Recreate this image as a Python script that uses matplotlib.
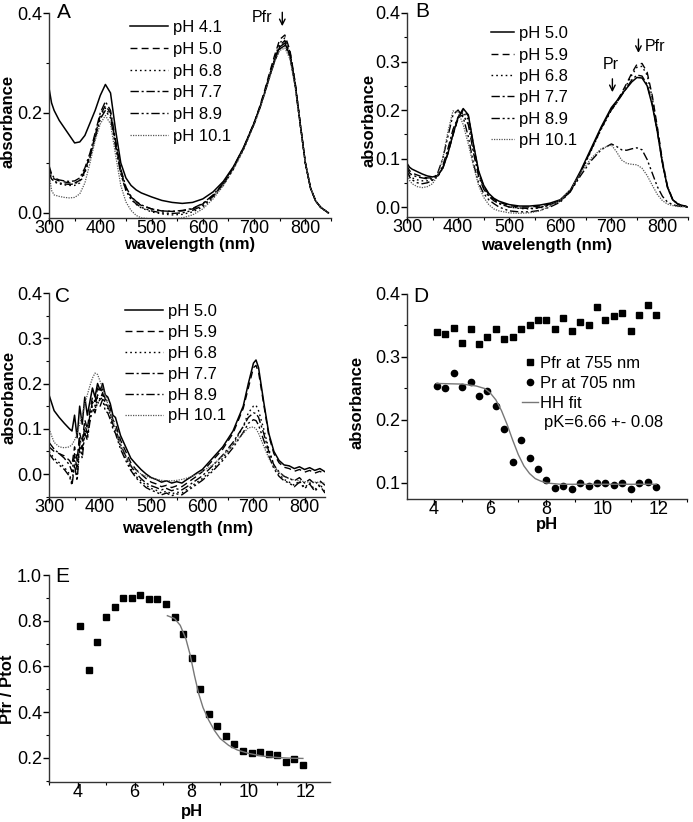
import matplotlib
matplotlib.use("Agg")
import matplotlib.pyplot as plt
from matplotlib.ticker import MultipleLocator

plt.rcParams['font.family'] = ['Liberation Sans', 'DejaVu Sans']

# ---------------- panel A ----------------
wl_a = [300, 305, 310, 320, 330, 340, 350, 360, 370, 380, 390, 400, 410, 420, 430,
        440, 450, 460, 470, 480, 500, 520, 540, 560, 580, 600, 620, 640, 660, 680,
        700, 710, 720, 730, 740, 750, 760, 770, 780, 790, 800, 810, 820, 830, 845]
a_41 = [0.25, 0.22, 0.205, 0.185, 0.17, 0.155, 0.14, 0.142, 0.155, 0.18, 0.205, 0.235, 0.257, 0.24, 0.165,
        0.10, 0.07, 0.055, 0.046, 0.04, 0.032, 0.025, 0.021, 0.019, 0.021, 0.028, 0.042, 0.063, 0.093, 0.132,
        0.18, 0.207, 0.238, 0.272, 0.305, 0.332, 0.34, 0.315, 0.258, 0.178, 0.10, 0.05, 0.024, 0.011, 0.0]
a_50 = [0.09, 0.075, 0.068, 0.064, 0.062, 0.06, 0.06, 0.065, 0.085, 0.115, 0.155, 0.195, 0.215, 0.2, 0.14,
        0.085, 0.05, 0.032, 0.022, 0.015, 0.008, 0.004, 0.003, 0.004, 0.008, 0.018, 0.035, 0.058, 0.09, 0.13,
        0.18, 0.21, 0.243, 0.28, 0.315, 0.347, 0.356, 0.325, 0.262, 0.18, 0.1, 0.05, 0.024, 0.011, 0.0]
a_68 = [0.085, 0.07, 0.062, 0.058, 0.056, 0.055, 0.055, 0.06, 0.08, 0.11, 0.15, 0.19, 0.21, 0.195, 0.135,
        0.08, 0.045, 0.027, 0.017, 0.01, 0.002, -0.002, -0.004, -0.003, 0.002, 0.012, 0.03, 0.055, 0.088, 0.128,
        0.178, 0.207, 0.24, 0.275, 0.31, 0.34, 0.35, 0.322, 0.26, 0.178, 0.1, 0.05, 0.024, 0.011, 0.0]
a_77 = [0.095, 0.078, 0.07, 0.066, 0.064, 0.063, 0.064, 0.07, 0.09, 0.12, 0.16, 0.2, 0.223, 0.205, 0.145,
        0.088, 0.052, 0.033, 0.023, 0.016, 0.008, 0.004, 0.003, 0.005, 0.009, 0.019, 0.036, 0.06, 0.092, 0.132,
        0.18, 0.208, 0.24, 0.275, 0.308, 0.335, 0.345, 0.32, 0.26, 0.178, 0.1, 0.05, 0.024, 0.011, 0.0]
a_89 = [0.08, 0.068, 0.063, 0.06, 0.058, 0.057, 0.058, 0.064, 0.083, 0.112, 0.15, 0.188, 0.205, 0.19, 0.132,
        0.078, 0.045, 0.028, 0.018, 0.011, 0.004, 0.0, -0.001, 0.0, 0.005, 0.015, 0.033, 0.057, 0.09, 0.13,
        0.178, 0.206, 0.238, 0.272, 0.303, 0.328, 0.335, 0.312, 0.255, 0.176, 0.1, 0.05, 0.024, 0.011, 0.0]
a_101 = [0.08, 0.045, 0.036, 0.033, 0.031, 0.03, 0.031, 0.038, 0.06, 0.1, 0.145, 0.178, 0.195, 0.178, 0.115,
         0.055, 0.022, 0.005, -0.005, -0.01, -0.012, -0.012, -0.012, -0.01, -0.004, 0.008, 0.028, 0.055, 0.088, 0.128,
         0.176, 0.204, 0.236, 0.27, 0.302, 0.325, 0.33, 0.308, 0.252, 0.175, 0.1, 0.05, 0.024, 0.011, 0.0]
labels_a = ['pH 4.1', 'pH 5.0', 'pH 6.8', 'pH 7.7', 'pH 8.9', 'pH 10.1']

# ---------------- panel B ----------------
wl_b = [300, 305, 310, 320, 330, 340, 350, 360, 370, 380, 390, 400, 410, 420, 430,
        440, 450, 460, 470, 480, 500, 520, 540, 560, 580, 600, 620, 640, 660, 680,
        700, 710, 720, 730, 740, 750, 760, 770, 780, 790, 800, 810, 820, 830, 850]
b_50 = [0.09, 0.082, 0.078, 0.073, 0.068, 0.064, 0.062, 0.065, 0.08, 0.11, 0.15, 0.185, 0.203, 0.19, 0.13,
        0.075, 0.045, 0.028, 0.018, 0.012, 0.005, 0.002, 0.002, 0.004, 0.008, 0.015, 0.035, 0.075, 0.12, 0.165,
        0.205, 0.218, 0.232, 0.245, 0.258, 0.267, 0.266, 0.25, 0.21, 0.155, 0.09, 0.04, 0.015, 0.006, 0.0]
b_59 = [0.085, 0.075, 0.07, 0.066, 0.062, 0.06, 0.06, 0.064, 0.08, 0.11, 0.148, 0.183, 0.2, 0.188, 0.128,
        0.073, 0.043, 0.026, 0.016, 0.01, 0.003, 0.0, 0.0, 0.002, 0.006, 0.013, 0.033, 0.072, 0.117, 0.162,
        0.202, 0.216, 0.235, 0.255, 0.276, 0.294, 0.296, 0.278, 0.23, 0.165, 0.095, 0.042, 0.016, 0.006, 0.0]
b_68 = [0.075, 0.065, 0.06, 0.056, 0.054, 0.054, 0.056, 0.062, 0.08, 0.112, 0.15, 0.182, 0.196, 0.18, 0.12,
        0.068, 0.04, 0.024, 0.014, 0.008, 0.0, -0.003, -0.004, -0.002, 0.004, 0.012, 0.032, 0.07, 0.115, 0.16,
        0.2, 0.214, 0.232, 0.252, 0.272, 0.288, 0.29, 0.272, 0.225, 0.162, 0.093, 0.042, 0.016, 0.006, 0.0]
b_77 = [0.08, 0.07, 0.066, 0.062, 0.06, 0.058, 0.058, 0.064, 0.085, 0.12, 0.16, 0.185, 0.19, 0.17, 0.112,
        0.064, 0.037, 0.022, 0.013, 0.007, 0.0, -0.002, -0.003, -0.001, 0.005, 0.013, 0.033, 0.072, 0.117, 0.162,
        0.2, 0.214, 0.23, 0.246, 0.262, 0.272, 0.27, 0.253, 0.212, 0.156, 0.09, 0.04, 0.015, 0.006, 0.0]
b_89 = [0.075, 0.062, 0.056, 0.05, 0.048, 0.05, 0.055, 0.07, 0.1, 0.145, 0.19, 0.2, 0.185, 0.145, 0.09,
        0.05, 0.028, 0.015, 0.007, 0.0, -0.008, -0.01, -0.01, -0.007, 0.0, 0.01, 0.032, 0.065, 0.095, 0.118,
        0.13, 0.125, 0.118, 0.117, 0.12, 0.122, 0.118, 0.098, 0.07, 0.042, 0.022, 0.01, 0.005, 0.002, 0.0]
b_101 = [0.07, 0.055, 0.048, 0.042, 0.04, 0.042, 0.048, 0.065, 0.1, 0.155, 0.198, 0.196, 0.17, 0.13, 0.085,
         0.045, 0.02, 0.005, -0.004, -0.008, -0.012, -0.013, -0.012, -0.008, 0.002, 0.014, 0.037, 0.07, 0.1, 0.12,
         0.128, 0.114, 0.097, 0.09, 0.088, 0.087, 0.08, 0.065, 0.045, 0.026, 0.013, 0.006, 0.003, 0.001, 0.0]
labels_bc = ['pH 5.0', 'pH 5.9', 'pH 6.8', 'pH 7.7', 'pH 8.9', 'pH 10.1']

# ---------------- panel C ----------------
wl_c = [300, 310, 320, 330, 340, 345, 350, 355, 360, 365, 370, 375, 380, 385, 390, 395, 400, 405, 410, 415,
        420, 425, 430, 440, 450, 460, 470, 480, 490, 500, 510, 520, 530, 540, 550, 560, 570, 580, 590, 600,
        620, 640, 660, 680, 690, 700, 705, 710, 720, 730, 740, 750, 760, 770, 780, 790, 800, 810, 820, 830, 840]
c_50 = [0.175, 0.14, 0.125, 0.112, 0.1, 0.095, 0.13, 0.08, 0.15, 0.11, 0.17, 0.13, 0.16, 0.19, 0.17, 0.2, 0.185, 0.2, 0.175, 0.17,
        0.155, 0.13, 0.125, 0.085, 0.06, 0.035, 0.022, 0.01, 0.0, -0.008, -0.012, -0.018, -0.015, -0.02, -0.017, -0.02, -0.012, -0.005, 0.003, 0.01,
        0.035, 0.06, 0.095, 0.15, 0.2, 0.245, 0.252, 0.235, 0.16, 0.09, 0.05, 0.03, 0.02, 0.018, 0.012, 0.016, 0.01, 0.014, 0.008, 0.012, 0.005]
c_59 = [0.06, 0.05, 0.045, 0.04, 0.03, 0.02, 0.06, 0.03, 0.09, 0.07, 0.12, 0.1, 0.14, 0.17, 0.16, 0.19, 0.18, 0.19, 0.165, 0.16,
        0.145, 0.12, 0.11, 0.075, 0.05, 0.025, 0.01, 0.0, -0.01, -0.018, -0.022, -0.028, -0.025, -0.03, -0.026, -0.028, -0.02, -0.012, -0.004, 0.005,
        0.03, 0.055, 0.09, 0.145, 0.19, 0.235, 0.24, 0.225, 0.155, 0.085, 0.045, 0.025, 0.015, 0.012, 0.006, 0.01, 0.004, 0.008, 0.002, 0.006, 0.0]
c_68 = [0.05, 0.035, 0.025, 0.015, 0.0, -0.02, 0.03, -0.01, 0.07, 0.04, 0.1, 0.08, 0.12, 0.15, 0.14, 0.17, 0.16, 0.175, 0.15, 0.145,
        0.13, 0.105, 0.095, 0.06, 0.035, 0.012, -0.005, -0.015, -0.025, -0.032, -0.036, -0.042, -0.038, -0.044, -0.04, -0.042, -0.034, -0.026, -0.018, -0.01,
        0.01, 0.035, 0.065, 0.105, 0.135, 0.15, 0.152, 0.14, 0.1, 0.055, 0.02, 0.0, -0.012, -0.018, -0.025, -0.015, -0.03, -0.02, -0.035, -0.022, -0.04]
c_77 = [0.07, 0.055, 0.045, 0.035, 0.02, 0.005, 0.045, 0.01, 0.08, 0.055, 0.11, 0.09, 0.13, 0.16, 0.15, 0.175, 0.165, 0.18, 0.155, 0.15,
        0.135, 0.11, 0.1, 0.065, 0.04, 0.018, 0.002, -0.01, -0.02, -0.026, -0.03, -0.035, -0.032, -0.037, -0.033, -0.035, -0.028, -0.02, -0.012, -0.004,
        0.018, 0.042, 0.07, 0.105, 0.125, 0.135, 0.134, 0.125, 0.09, 0.05, 0.02, 0.005, -0.005, -0.01, -0.015, -0.008, -0.02, -0.012, -0.022, -0.015, -0.025]
c_89 = [0.045, 0.03, 0.02, 0.01, -0.005, -0.025, 0.02, -0.015, 0.06, 0.035, 0.09, 0.075, 0.115, 0.145, 0.135, 0.16, 0.15, 0.165, 0.14, 0.135,
        0.12, 0.1, 0.09, 0.055, 0.03, 0.008, -0.008, -0.02, -0.03, -0.036, -0.04, -0.046, -0.042, -0.048, -0.044, -0.046, -0.038, -0.03, -0.022, -0.014,
        0.006, 0.03, 0.058, 0.092, 0.112, 0.12, 0.118, 0.108, 0.075, 0.04, 0.012, -0.005, -0.015, -0.02, -0.028, -0.018, -0.032, -0.022, -0.038, -0.026, -0.042]
c_101 = [0.1, 0.07, 0.06, 0.058, 0.06, 0.065, 0.075, 0.09, 0.11, 0.13, 0.155, 0.175, 0.195, 0.212, 0.223, 0.22, 0.205, 0.19, 0.175, 0.155,
         0.135, 0.118, 0.1, 0.065, 0.04, 0.02, 0.008, 0.0, -0.005, -0.009, -0.012, -0.014, -0.015, -0.015, -0.014, -0.012, -0.009, -0.005, 0.0, 0.006,
         0.02, 0.04, 0.065, 0.09, 0.102, 0.104, 0.1, 0.09, 0.062, 0.035, 0.015, 0.003, -0.005, -0.01, -0.013, -0.015, -0.017, -0.018, -0.018, -0.019, -0.02]

# ---------------- panel D ----------------
ph = [4.1, 4.4, 4.7, 5.0, 5.3, 5.6, 5.9, 6.2, 6.5, 6.8, 7.1, 7.4, 7.7, 8.0,
      8.3, 8.6, 8.9, 9.2, 9.5, 9.8, 10.1, 10.4, 10.7, 11.0, 11.3, 11.6, 11.9]
pfr_755 = [0.340, 0.336, 0.346, 0.323, 0.344, 0.321, 0.332, 0.345, 0.328, 0.331, 0.344, 0.351, 0.358, 0.359,
           0.344, 0.362, 0.342, 0.355, 0.351, 0.379, 0.359, 0.365, 0.370, 0.342, 0.366, 0.383, 0.366]
pr_705 = [0.254, 0.251, 0.275, 0.252, 0.261, 0.238, 0.246, 0.222, 0.186, 0.133, 0.168, 0.140, 0.122, 0.104,
          0.092, 0.096, 0.091, 0.100, 0.095, 0.100, 0.100, 0.097, 0.100, 0.091, 0.100, 0.101, 0.094]
fit_d_ph = [4.1, 5.0, 5.5, 5.8, 6.0, 6.2, 6.4, 6.6, 6.8, 7.0, 7.2, 7.4, 7.6, 7.8, 8.0, 8.5, 9.0, 10.0, 11.9]
fit_d = [0.258, 0.257, 0.254, 0.250, 0.243, 0.232, 0.215, 0.193, 0.168, 0.145, 0.127, 0.115, 0.107, 0.103,
         0.100, 0.098, 0.098, 0.098, 0.098]

# ---------------- panel E ----------------
pfr_ptot = [0.777, 0.583, 0.709, 0.818, 0.859, 0.898, 0.898, 0.911, 0.895, 0.895, 0.875, 0.818, 0.743, 0.635,
            0.503, 0.393, 0.341, 0.295, 0.263, 0.231, 0.222, 0.225, 0.217, 0.215, 0.181, 0.196, 0.169]
fit_e_ph = [7.15, 7.4, 7.6, 7.8, 7.95, 8.1, 8.25, 8.4, 8.6, 8.8, 9.0, 9.3, 9.6, 10.0, 10.5, 11.0, 11.5, 11.9]
fit_e = [0.822, 0.81, 0.78, 0.72, 0.65, 0.56, 0.48, 0.42, 0.365, 0.32, 0.285, 0.255, 0.235, 0.22, 0.208,
         0.202, 0.199, 0.198]

styles = [dict(ls='-', color='black', lw=1.1),
          dict(ls=(0, (5, 3)), color='black', lw=1.0),
          dict(ls=(0, (1.2, 2.2)), color='black', lw=1.0),
          dict(ls=(0, (6, 2, 1.5, 2)), color='black', lw=1.0),
          dict(ls=(0, (6, 2, 1.5, 2, 1.5, 2)), color='black', lw=1.0),
          dict(ls=(0, (1, 1)), color='#555555', lw=0.9)]

TICK = 13
LAB = 12
W, H = 693, 822


def frame(ax, xlim, ylim, xmaj, xmin, ymaj, ymin, yfmt):
    ax.set_xlim(*xlim)
    ax.set_ylim(*ylim)
    for s in ['top', 'right']:
        ax.spines[s].set_visible(False)
    for s in ['left', 'bottom']:
        ax.spines[s].set_linewidth(1.0)
        ax.spines[s].set_color('#333333')
    ax.xaxis.set_major_locator(MultipleLocator(xmaj))
    ax.xaxis.set_minor_locator(MultipleLocator(xmin))
    ax.yaxis.set_major_locator(MultipleLocator(ymaj))
    ax.yaxis.set_minor_locator(MultipleLocator(ymin))
    ax.yaxis.set_major_formatter(yfmt)
    ax.tick_params(which='major', direction='out', length=4, width=1.0, labelsize=TICK)
    ax.tick_params(which='minor', direction='out', length=2.5, width=0.8)
    ax.tick_params(axis='x', which='major', pad=-2.5)
    ax.tick_params(axis='y', which='major', pad=1)


def box(l, t, r, b):
    return [l / W, 1 - b / H, (r - l) / W, (b - t) / H]


fig = plt.figure(figsize=(6.93, 8.22), dpi=100)
fmt1 = '{x:.1f}'

# A
ax = fig.add_axes(box(49, 13, 331, 218))
for y, lab, st in zip([a_41, a_50, a_68, a_77, a_89, a_101], labels_a, styles):
    ax.plot(wl_a, y, label=lab, **st)
frame(ax, (300, 850), (-0.0102, 0.4), 100, 50, 0.2, 0.1, fmt1)
ax.legend(loc='upper left', bbox_to_anchor=(0.287, 0.965), frameon=False, fontsize=12,
          handlelength=2.3, handletextpad=0.3, labelspacing=0.4, borderpad=0, borderaxespad=0)
ax.set_xlabel('wavelength (nm)', fontsize=LAB, fontweight='bold')
ax.set_ylabel('absorbance', fontsize=LAB, fontweight='bold')
ax.xaxis.set_label_coords(0.497, -0.095)
ax.yaxis.set_label_coords(-0.12, 0.47)
ax.text(0.028, 1.0, 'A', transform=ax.transAxes, fontsize=15, va='center', ha='left')
ax.annotate('', xy=(755, 0.368), xytext=(755, 0.407), annotation_clip=False,
            arrowprops=dict(arrowstyle='->', color='black', lw=1.0))
ax.text(735, 0.39, 'Pfr', fontsize=11.5, ha='right', va='center')

# B
ax = fig.add_axes(box(407, 13, 688, 217))
for y, lab, st in zip([b_50, b_59, b_68, b_77, b_89, b_101], labels_bc, styles):
    ax.plot(wl_b, y, label=lab, **st)
frame(ax, (300, 850), (-0.0206, 0.4), 100, 50, 0.1, 0.05, fmt1)
ax.legend(loc='upper left', bbox_to_anchor=(0.299, 0.935), frameon=False, fontsize=12,
          handlelength=1.4, handletextpad=0.3, labelspacing=0.38, borderpad=0, borderaxespad=0)
ax.set_xlabel('wavelength (nm)', fontsize=LAB, fontweight='bold')
ax.set_ylabel('absorbance', fontsize=LAB, fontweight='bold')
ax.xaxis.set_label_coords(0.498, -0.105)
ax.yaxis.set_label_coords(-0.107, 0.475)
ax.text(0.028, 1.006, 'B', transform=ax.transAxes, fontsize=15, va='center', ha='left')
ax.annotate('', xy=(753, 0.312), xytext=(753, 0.352), annotation_clip=False,
            arrowprops=dict(arrowstyle='->', color='black', lw=1.0))
ax.text(765, 0.33, 'Pfr', fontsize=11.5, ha='left', va='center')
ax.annotate('', xy=(702, 0.231), xytext=(702, 0.27),
            arrowprops=dict(arrowstyle='->', color='black', lw=1.0))
ax.text(698, 0.293, 'Pr', fontsize=11.5, ha='center', va='center')

# C
ax = fig.add_axes(box(49, 293, 325, 497))
for y, lab, st in zip([c_50, c_59, c_68, c_77, c_89, c_101], labels_bc, styles):
    ax.plot(wl_c, y, label=lab, **st)
frame(ax, (300, 840), (-0.0508, 0.4), 100, 50, 0.1, 0.05, fmt1)
ax.legend(loc='upper left', bbox_to_anchor=(0.275, 0.945), frameon=False, fontsize=12,
          handlelength=2.3, handletextpad=0.3, labelspacing=0.35, borderpad=0, borderaxespad=0)
ax.set_xlabel('wavelength (nm)', fontsize=LAB, fontweight='bold')
ax.set_ylabel('absorbance', fontsize=LAB, fontweight='bold')
ax.xaxis.set_label_coords(0.504, -0.12)
ax.yaxis.set_label_coords(-0.116, 0.49)
ax.text(0.022, 0.985, 'C', transform=ax.transAxes, fontsize=15, va='center', ha='left')

# D
ax = fig.add_axes(box(407, 294, 687, 499))
ax.plot(ph, pfr_755, 's', color='black', ms=4, label='Pfr at 755 nm')
ax.plot(ph, pr_705, 'o', color='black', ms=4.5, label='Pr at 705 nm')
ax.plot(fit_d_ph, fit_d, '-', color='#777777', lw=1.0, label='HH fit')
frame(ax, (3.04, 13.0), (0.0746, 0.4), 2, 1, 0.1, 0.05, fmt1)
ax.legend(loc='upper left', bbox_to_anchor=(0.41, 0.70), frameon=False, fontsize=12,
          handlelength=1.0, handletextpad=0.1, labelspacing=0.3, borderpad=0, borderaxespad=0)
ax.text(0.49, 0.375, 'pK=6.66 +- 0.08', transform=ax.transAxes, fontsize=12, va='center', ha='left')
ax.set_xlabel('pH', fontsize=LAB, fontweight='bold')
ax.set_ylabel('absorbance', fontsize=LAB, fontweight='bold')
ax.xaxis.set_label_coords(0.5, -0.087)
ax.yaxis.set_label_coords(-0.15, 0.47)
ax.text(0.021, 0.99, 'D', transform=ax.transAxes, fontsize=15, va='center', ha='left')

# E
ax = fig.add_axes(box(49, 575, 330, 782))
ax.plot(ph, pfr_ptot, 's', color='black', ms=4)
ax.plot(fit_e_ph, fit_e, '-', color='#777777', lw=1.0)
frame(ax, (3.0, 12.85), (0.095, 1.0), 2, 1, 0.2, 0.1, fmt1)
ax.set_xlabel('pH', fontsize=LAB, fontweight='bold')
ax.set_ylabel('Pfr / Ptot', fontsize=LAB, fontweight='bold')
ax.xaxis.set_label_coords(0.51, -0.105)
ax.yaxis.set_label_coords(-0.121, 0.45)
ax.text(0.021, 0.995, 'E', transform=ax.transAxes, fontsize=15, va='center', ha='left')

fig.savefig('out.png', dpi=100)
